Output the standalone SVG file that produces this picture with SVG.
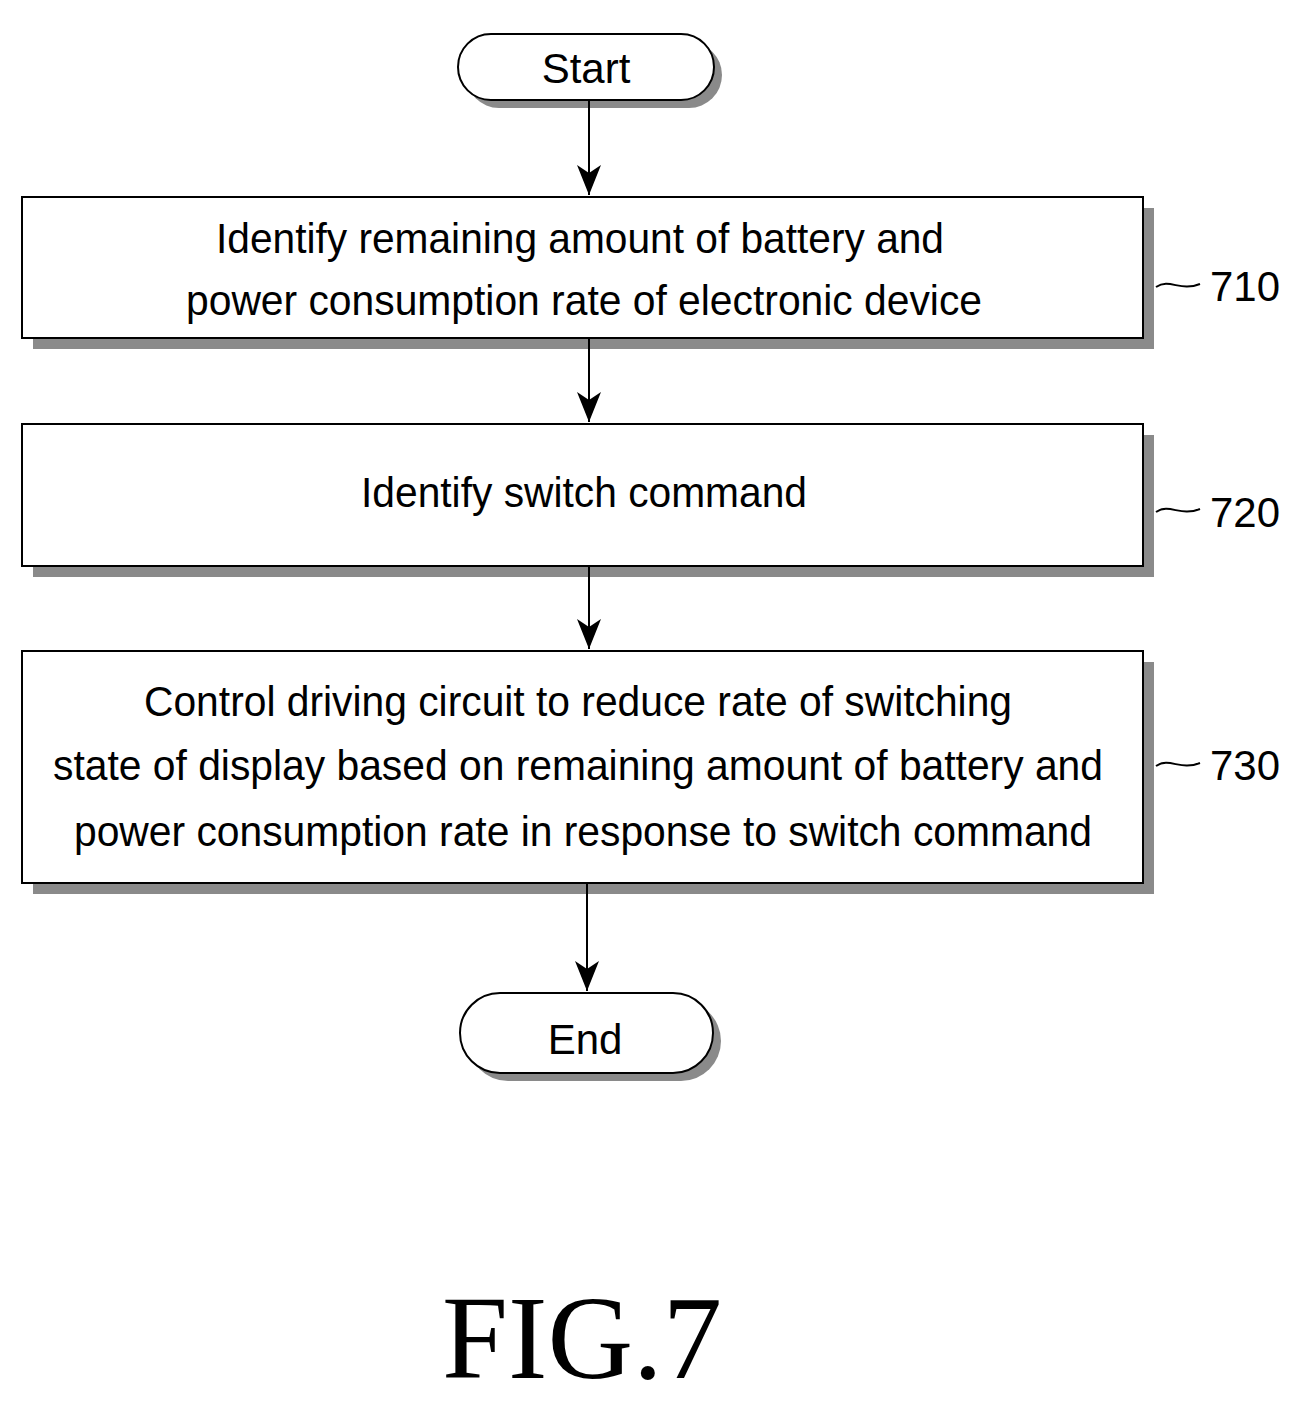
<svg xmlns="http://www.w3.org/2000/svg" width="1301" height="1402" viewBox="0 0 1301 1402">
<style>
.box{fill:#fff;stroke:#000;stroke-width:2}
.sh{fill:#8a8a8a}
.t{font-family:"Liberation Sans",Arial,sans-serif;font-size:42px;fill:#000;text-anchor:middle}
.c{stroke:#000;stroke-width:2;fill:none}
</style>
<defs><marker id="a" markerWidth="12" markerHeight="14" refX="11" refY="7" orient="auto" markerUnits="userSpaceOnUse"><path d="M0,0 L12,7 L0,14 Z" fill="#000"/></marker>
<marker id="ah" viewBox="0 0 24 30" markerWidth="24" markerHeight="30" refX="12" refY="30" orient="0" markerUnits="userSpaceOnUse"><path d="M0,0 L12,30 L24,0 L12,8 Z" fill="#000"/></marker></defs>
<g id="start"><rect class="sh" x="466" y="42" width="256" height="66" rx="33"/><rect class="box" x="458" y="34" width="256" height="66" rx="33"/><text class="t" x="586" y="83">Start</text></g>
<g id="n710"><rect class="sh" x="33" y="208" width="1121" height="141"/><rect class="box" x="22" y="197" width="1121" height="141"/>
<text class="t" x="580" y="253" textLength="728" lengthAdjust="spacingAndGlyphs">Identify remaining amount of battery and</text>
<text class="t" x="584" y="315" textLength="796" lengthAdjust="spacingAndGlyphs">power consumption rate of electronic device</text>
<text class="t" x="1245" y="301" textLength="70" lengthAdjust="spacingAndGlyphs">710</text></g>
<g id="n720"><rect class="sh" x="33" y="435" width="1121" height="142"/><rect class="box" x="22" y="424" width="1121" height="142"/>
<text class="t" x="584" y="507" textLength="446" lengthAdjust="spacingAndGlyphs">Identify switch command</text>
<text class="t" x="1245" y="527" textLength="70" lengthAdjust="spacingAndGlyphs">720</text></g>
<g id="n730"><rect class="sh" x="33" y="662" width="1121" height="232"/><rect class="box" x="22" y="651" width="1121" height="232"/>
<text class="t" x="578" y="716" textLength="868" lengthAdjust="spacingAndGlyphs">Control driving circuit to reduce rate of switching</text>
<text class="t" x="578" y="780" textLength="1050" lengthAdjust="spacingAndGlyphs">state of display based on remaining amount of battery and</text>
<text class="t" x="583" y="846" textLength="1018" lengthAdjust="spacingAndGlyphs">power consumption rate in response to switch command</text>
<text class="t" x="1245" y="780" textLength="70" lengthAdjust="spacingAndGlyphs">730</text></g>
<g id="end"><rect class="sh" x="468" y="1001" width="253" height="80" rx="40"/><rect class="box" x="460" y="993" width="253" height="80" rx="40"/><text class="t" x="585" y="1054">End</text></g>
<g id="connectors">
<line class="c" x1="589" y1="100" x2="589" y2="195" marker-end="url(#ah)"/>
<line class="c" x1="589" y1="338" x2="589" y2="422" marker-end="url(#ah)"/>
<line class="c" x1="589" y1="566" x2="589" y2="649" marker-end="url(#ah)"/>
<line class="c" x1="587" y1="883" x2="587" y2="991" marker-end="url(#ah)"/>
<path class="c" d="M1156,287 C1170,278 1180,292 1200,284"/>
<path class="c" d="M1156,512 C1170,503 1180,517 1200,509"/>
<path class="c" d="M1156,766 C1170,757 1180,771 1200,763"/>
</g>
<text x="582" y="1378" font-family="Liberation Serif,serif" font-size="118" text-anchor="middle" textLength="280" lengthAdjust="spacingAndGlyphs">FIG.7</text>
</svg>
